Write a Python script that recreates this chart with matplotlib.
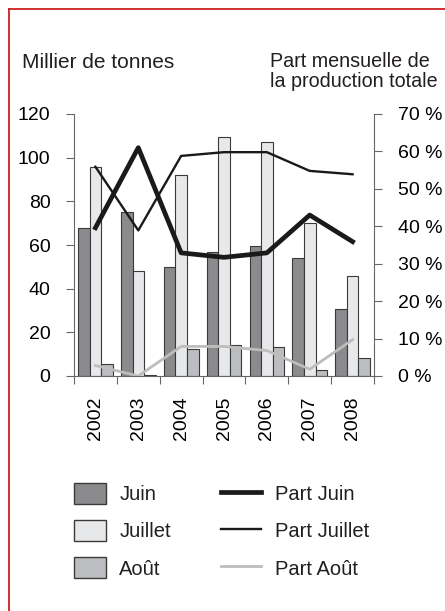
import matplotlib
matplotlib.use("Agg")
import matplotlib.pyplot as plt
import numpy as np
from matplotlib.patches import Patch
from matplotlib.lines import Line2D

plt.rcParams['font.family'] = ['Liberation Sans', 'DejaVu Sans']
plt.rcParams['text.color'] = '#231f20'

years = ['2002', '2003', '2004', '2005', '2006', '2007', '2008']
juin = [68, 75, 50, 57, 59.5, 54, 30.5]
juillet = [95.5, 48, 92, 109.5, 107, 70, 46]
aout = [5.3, 0.4, 12.2, 14, 13.1, 2.6, 8.1]
part_juin = [39.6, 61, 32.9, 31.7, 32.9, 43, 35.9]
part_juillet = [55.9, 38.9, 58.8, 59.8, 59.8, 54.8, 53.9]
part_aout = [2.8, 0, 7.9, 7.9, 6.8, 1.8, 9.7]

W, H = 445, 611
fig = plt.figure(figsize=(W / 100, H / 100), dpi=100)
ax = fig.add_axes([74 / W, 1 - 376 / H, 300 / W, 262 / H])
ax2 = ax.twinx()

# colours
c_juin, c_juil, c_aout = '#8b8b8d', '#e7e8e9', '#bcbdc0'
edge = '#3a3a3a'
c_line = '#1a1a1a'
c_line_aout = '#bdbdbd'
spine_c = '#666666'

x = np.arange(len(years))
bw = 0.27
ax.bar(x - bw, juin, bw, color=c_juin, edgecolor=edge, linewidth=0.8, zorder=2)
ax.bar(x, juillet, bw, color=c_juil, edgecolor=edge, linewidth=0.8, zorder=2)
ax.bar(x + bw, aout, bw, color=c_aout, edgecolor=edge, linewidth=0.8, zorder=2)

ax2.plot(x, part_aout, color=c_line_aout, lw=2)
ax2.plot(x, part_juillet, color=c_line, lw=1.7)
ax2.plot(x, part_juin, color=c_line, lw=3.4)

ax.set_xlim(-0.5, len(years) - 0.5)
ax.set_ylim(0, 120)
ax.set_yticks(range(0, 121, 20))
ax2.set_ylim(0, 70)
ax2.set_yticks(range(0, 71, 10))
ax2.set_yticklabels(['%d %%' % v for v in range(0, 71, 10)])

for a in (ax, ax2):
    a.spines['top'].set_visible(False)
    for s in ('left', 'right', 'bottom'):
        a.spines[s].set_color(spine_c)
    a.set_facecolor('none')
ax.spines['right'].set_visible(False)
ax2.spines['left'].set_visible(False)
ax2.spines['bottom'].set_visible(False)

# year labels sit between the boundary ticks
ax.set_xticks(np.arange(-0.5, len(years), 1))
ax.set_xticklabels([])
ax.set_xticks(x, minor=True)
ax.set_xticklabels(years, minor=True, rotation=90, fontsize=14)
ax.tick_params(axis='x', which='major', length=6, color=spine_c, direction='out')
ax.tick_params(axis='x', which='minor', length=0, pad=15)
ax.tick_params(axis='y', length=6, color=spine_c, labelsize=14, pad=11)
ax2.tick_params(axis='y', length=6, color=spine_c, labelsize=14, pad=11)

fig.text(22 / W, 1 - 68 / H, 'Millier de tonnes', fontsize=15, va='baseline', ha='left')
fig.text(270 / W, 1 - 67 / H, 'Part mensuelle de', fontsize=14.2, va='baseline', ha='left')
fig.text(270 / W, 1 - 87 / H, 'la production totale', fontsize=14.2, va='baseline', ha='left')

bar_handles = [
    Patch(facecolor=c_juin, edgecolor=edge, label='Juin'),
    Patch(facecolor=c_juil, edgecolor=edge, label='Juillet'),
    Patch(facecolor=c_aout, edgecolor=edge, label='Août'),
]
line_handles = [
    Line2D([], [], color=c_line, lw=3.4, label='Part Juin'),
    Line2D([], [], color=c_line, lw=1.7, label='Part Juillet'),
    Line2D([], [], color=c_line_aout, lw=2, label='Part Août'),
]
fig.legend(handles=bar_handles, loc='upper left', bbox_to_anchor=(74 / W, 1 - 483 / H),
           frameon=False, fontsize=14.5, handlelength=1.6, handleheight=1.2,
           labelspacing=0.8, handletextpad=0.65, borderpad=0, borderaxespad=0)
fig.legend(handles=line_handles, loc='upper left', bbox_to_anchor=(221 / W, 1 - 483 / H),
           frameon=False, fontsize=14.5, handlelength=2.0, handleheight=1.2,
           labelspacing=0.8, handletextpad=0.7, borderpad=0, borderaxespad=0)

# red frame on left and top
red = '#cc1f1f'
fig.add_artist(Line2D([8.5 / W, 8.5 / W], [0, 1 - 8.5 / H], color=red, lw=1.3,
                      transform=fig.transFigure))
fig.add_artist(Line2D([8.5 / W, 1], [1 - 8.5 / H, 1 - 8.5 / H], color=red, lw=1.3,
                      transform=fig.transFigure))

fig.savefig('out.png', dpi=100)
